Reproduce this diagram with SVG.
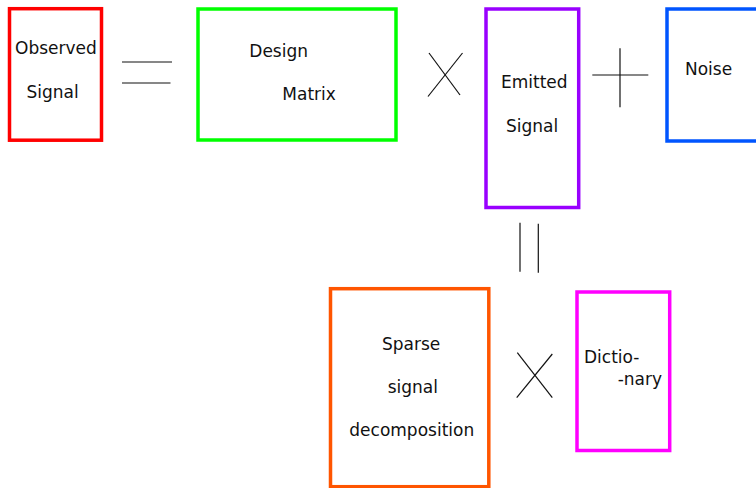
<svg xmlns="http://www.w3.org/2000/svg" width="756" height="488" viewBox="0 0 756 488">
<style>
  .box { fill: #ffffff; stroke-width: 3.5; }
  .t { font-family: "DejaVu Sans", sans-serif; font-size: 17px; fill: #111111; }
  .op { stroke: #111111; stroke-width: 1.2; fill: none; }
</style>
<rect width="756" height="488" fill="#ffffff"/>
<g id="observed">
  <rect class="box" x="9.5" y="8.7" width="92" height="131.5" stroke="#ff0000"/>
  <text class="t" x="15" y="54">Observed</text>
  <text class="t" x="26.5" y="98">Signal</text>
</g>
<g id="design">
  <rect class="box" x="198" y="9" width="198" height="131" stroke="#00ff00"/>
  <text class="t" x="249.3" y="57">Design</text>
  <text class="t" x="282.3" y="100">Matrix</text>
</g>
<g id="emitted">
  <rect class="box" x="486" y="9" width="92.7" height="198.5" stroke="#9900ff"/>
  <text class="t" x="501" y="88">Emitted</text>
  <text class="t" x="506" y="132">Signal</text>
</g>
<g id="noise">
  <rect class="box" x="667" y="9" width="110" height="132" stroke="#0055ff"/>
  <text class="t" x="685" y="75">Noise</text>
</g>
<g id="sparse">
  <rect class="box" x="330.5" y="288.7" width="158.3" height="198" stroke="#ff5500"/>
  <text class="t" x="382" y="350">Sparse</text>
  <text class="t" x="387.7" y="393">signal</text>
  <text class="t" x="349.3" y="436">decomposition</text>
</g>
<g id="dictionary">
  <rect class="box" x="577" y="292" width="92.7" height="158.5" stroke="#ff00ff"/>
  <text class="t" x="584" y="362.5">Dictio-</text>
  <text class="t" x="617.7" y="385">-nary</text>
</g>
<g id="connectors">
  <line class="op" x1="122" y1="62" x2="172" y2="62"/>
  <line class="op" x1="122" y1="83" x2="170.5" y2="83"/>
  <line class="op" x1="429" y1="53" x2="460" y2="95"/>
  <line class="op" x1="428" y1="96.5" x2="462.5" y2="53"/>
  <line class="op" x1="592.3" y1="75" x2="648.3" y2="75" stroke="#333333"/>
  <line class="op" x1="620" y1="48.3" x2="620" y2="107.3" stroke="#333333"/>
  <line class="op" x1="520" y1="222.7" x2="520" y2="271.7"/>
  <line class="op" x1="538.3" y1="223.7" x2="538.3" y2="272.7"/>
  <line class="op" x1="517.3" y1="352.7" x2="552.3" y2="397.7"/>
  <line class="op" x1="516.7" y1="397.7" x2="552.3" y2="354"/>
</g>
</svg>
